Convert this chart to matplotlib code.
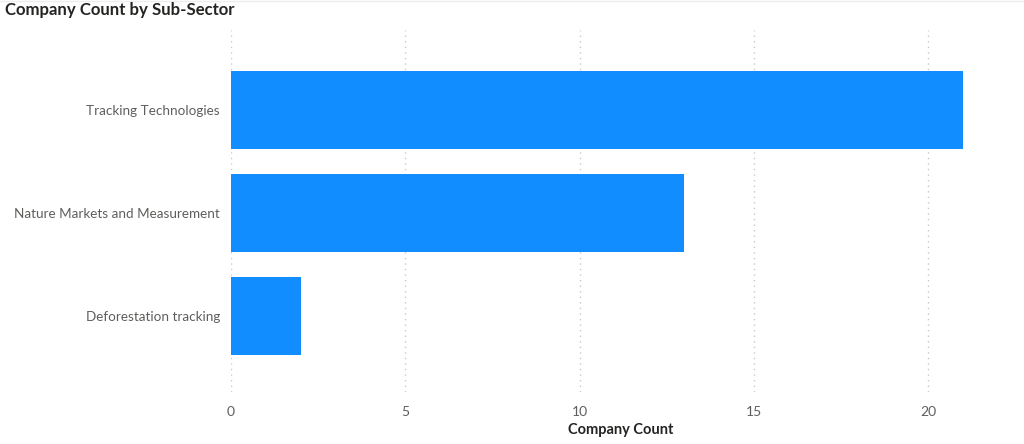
import matplotlib
matplotlib.use("Agg")
import matplotlib.pyplot as plt

# dados
sub_setores = ["Deforestation tracking", "Nature Markets and Measurement", "Tracking Technologies"]
contagens = [2, 13, 21]
ticks_x = [0, 5, 10, 15, 20]

plt.rcParams["font.family"] = ["Lato", "DejaVu Sans"]

fig = plt.figure(figsize=(10.24, 4.44), dpi=100)
ax = fig.add_axes([231 / 1024, 52 / 444, (1010 - 231) / 1024, (392 - 30) / 444])

# Barras
ax.barh(sub_setores, contagens, height=0.76, color="#118DFF", zorder=2)

ax.set_xlim(0, 22.35)
ax.set_ylim(-0.74, 2.78)
ax.set_xticks(ticks_x)

# Grade pontilhada
ax.grid(True, axis="x", color="#C8C8C8", linestyle=(0, (1, 3)), linewidth=1, zorder=0)
ax.grid(False, axis="y")

for lado in ax.spines.values():
    lado.set_visible(False)

ax.tick_params(axis="both", length=0, colors="#605E5C", labelsize=9.7)
ax.tick_params(axis="y", pad=8)
ax.tick_params(axis="x", labelsize=10, pad=10)

ax.set_xlabel("Company Count", color="#252423", fontsize=10.5, fontweight="bold", labelpad=4)

# Título
fig.text(5 / 1024, 1 - 10 / 444, "Company Count by Sub-Sector", color="#252423",
         fontsize=12.1, fontweight="bold", va="center", ha="left")

# linha fina no topo
fig.add_artist(plt.Line2D([0, 1], [0.998, 0.998], color="#EDEDED", linewidth=1))

fig.savefig("out.png", dpi=100, facecolor="white")
